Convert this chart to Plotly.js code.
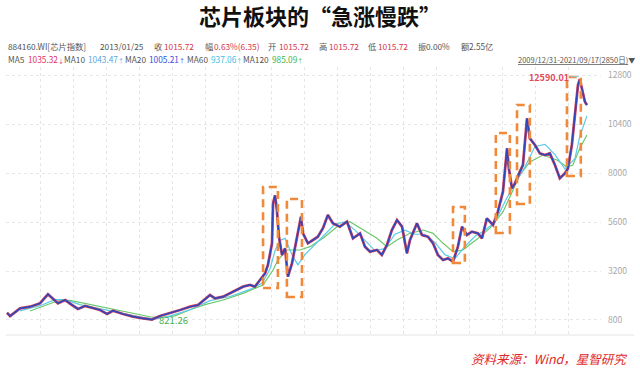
<!DOCTYPE html>
<html><head><meta charset="utf-8">
<script src="https://cdn.plot.ly/plotly-3.0.1.min.js"></script>
<style>html,body{margin:0;padding:0;background:#fff;}#chart{width:640px;height:372px;}</style>
</head><body><div id="chart"></div>
<script>
// ---- data (trading-day index since 2009/12/31, index level) ----
const priceDay = [0,15,64,113,162,201,250,285,319,348,383,422,456,491,520,569,618,667,711,750,800,849,898,937,996,1020,1060,1109,1158,1192,1216,1241,1266,1280,1300,1305,1315,1324,1334,1349,1364,1373,1378,1398,1422,1442,1452,1476,1501,1525,1550,1574,1599,1633,1668,1697,1732,1756,1781,1815,1839,1864,1888,1913,1938,1962,1977,2011,2036,2065,2090,2114,2139,2163,2188,2212,2232,2256,2281,2310,2330,2354,2369,2384,2408,2433,2453,2462,2477,2492,2516,2531,2551,2565,2590,2614,2639,2663,2688,2712,2737,2752,2771,2786,2801,2810,2825,2835,2845];
const priceClose = [1157,996,1373,1451,1618,2058,1618,1780,1535,1340,1486,1388,1290,1094,1255,1094,962,883,821,996,1128,1290,1451,1535,2024,1863,1941,2188,2433,2514,2433,2760,3087,3494,4555,6514,6900,6188,4880,3984,4310,3412,2923,3575,4880,5860,5045,4555,4718,4880,5300,5943,5535,5371,5616,4800,5045,4392,4145,4229,3984,4474,5208,5698,5371,4066,4718,5535,4963,4880,4555,3984,3739,3820,3657,4392,5371,4963,5127,5045,4800,5780,5616,5453,6106,7086,9208,8228,7249,7494,8065,8392,10678,9698,9371,8963,8882,8963,8392,7739,7984,8228,9371,10841,12310,12590,11820,11493,11330];

const ma60Day = [64,162,235,285,358,456,554,652,726,800,898,996,1094,1192,1251,1290,1315,1339,1364,1398,1427,1462,1511,1560,1609,1658,1707,1756,1805,1854,1903,1952,2001,2050,2099,2148,2197,2246,2296,2345,2394,2443,2492,2541,2590,2639,2688,2737,2786,2810,2845];
const ma60Vals = [1250,1500,1800,1800,1550,1350,1150,950,850,1000,1300,1750,1950,2300,2600,3300,4200,4700,4800,4000,3500,4000,4500,5000,5500,5600,5200,4700,4200,4300,5000,5200,5000,5000,4600,4000,3800,4400,4900,5200,5600,6600,7500,8300,9300,9400,8900,8200,8700,9800,10800];

const ma120Day = [113,186,260,309,407,505,603,701,750,824,898,971,1060,1158,1256,1305,1329,1373,1437,1486,1550,1619,1682,1746,1815,1864,1913,1977,2041,2090,2139,2188,2237,2271,2305,2369,2433,2516,2565,2629,2698,2747,2776,2810,2845];
const ma120Vals = [1240,1500,1780,1760,1560,1350,1170,960,900,1000,1300,1550,1780,2106,2514,3249,3739,4229,4229,4392,4800,5371,5616,5208,4800,4392,4718,5045,5208,5045,4555,4145,4229,4500,4750,5300,6090,7900,8540,8880,8640,8290,8390,9210,9860];

const yTicks = [800,3200,5600,8000,10400,12800];
const maxLabel = "12590.01";
const minLabel = "821.26";
const maxDay = 2810, maxVal = 12590;
const minDay = 711, minVal = 821;

// highlighted surge windows: [startDay, endDay, low, high]
const surgeBoxes = [
  [1256,1329,2367,7314],
  [1373,1447,1927,6727],
  [2188,2246,3592,6335],
  [2398,2467,5061,9959],
  [2502,2565,6482,11331],
  [2747,2815,7853,12702]
];

// ---- layout helpers ----
const W = 640, H = 372, ML = 6, MR = 39, MT = 67, MB = 37;
const PW = W - ML - MR, PH = H - MT - MB;
const px = x => (x - ML) / PW;
const py = y => 1 - (y - MT) / PH;

const FONT = '"Noto Sans CJK SC", "Noto Sans", sans-serif';
const GRAY = '#555', RED = '#d8364c';

const traces = [
  {x: ma120Day, y: ma120Vals, type: 'scatter', mode: 'lines', line: {color: '#6cc86c', width: 1.2}, hoverinfo: 'skip'},
  {x: ma60Day, y: ma60Vals, type: 'scatter', mode: 'lines', line: {color: '#5ccbe6', width: 1.2}, hoverinfo: 'skip'},
  {x: priceDay, y: priceClose, type: 'scatter', mode: 'lines', line: {color: '#e0485a', width: 2.8}, hoverinfo: 'skip'},
  {x: priceDay, y: priceClose, type: 'scatter', mode: 'lines', line: {color: '#3346b8', width: 1.7}, hoverinfo: 'skip'}
];

const arrowDn = '<span style="font-size:6px">↓</span>';
const arrowUp = '<span style="font-size:6px">↑</span>';
const line1 = [
  ["884160.WI[芯片指数]",7,GRAY],["2013/01/25",99,GRAY],["收",153,GRAY],["1015.72",163,RED],
  ["幅",204,GRAY],["0.63%(6.35)",213,RED],["开",267,GRAY],["1015.72",278,RED],
  ["高",318,GRAY],["1015.72",328,RED],["低",367,GRAY],["1015.72",377,RED],
  ["振",417,GRAY],["0.00%",425,GRAY],["额",460,GRAY],["2.55亿",468,GRAY]
];
const line2 = [
  ["MA5",7,GRAY],["1035.32"+arrowDn,27,'#e0306a'],["MA10",63,GRAY],["1043.47"+arrowUp,87,'#5fa5e0'],
  ["MA20",124,GRAY],["1005.21"+arrowUp,148,'#2e4fe0'],["MA60",186,GRAY],["937.06"+arrowUp,210,'#3cc2e6'],
  ["MA120",242,GRAY],["985.09"+arrowUp,271,'#3fb54a']
];

const annotations = [];
line1.forEach(([t,x,c]) => annotations.push({xref:'paper',yref:'paper',x:px(x),y:py(46.5),xanchor:'left',yanchor:'middle',text:t,showarrow:false,borderpad:0,font:{family:FONT,size:8.3,color:c}}));
line2.forEach(([t,x,c]) => annotations.push({xref:'paper',yref:'paper',x:px(x),y:py(59.5),xanchor:'left',yanchor:'middle',text:t,showarrow:false,borderpad:0,font:{family:FONT,size:8.3,color:c}}));
annotations.push({xref:'paper',yref:'paper',x:px(636),y:py(60),xanchor:'right',yanchor:'middle',text:'<span style="text-decoration:underline">2009/12/31-2021/09/17(2850日)</span><span style="font-size:7px">▼</span>',showarrow:false,borderpad:0,font:{family:FONT,size:7.5,color:GRAY}});
annotations.push({xref:'x',yref:'y',x:maxDay - 48,y:maxVal + 100,xanchor:'right',yanchor:'middle',text:'<b>'+maxLabel+'</b>',showarrow:false,borderpad:0,font:{family:FONT,size:9,color:'#e04a5a'}});
annotations.push({xref:'x',yref:'y',x:minDay + 30,y:minVal - 10,xanchor:'left',yanchor:'middle',text:minLabel,showarrow:false,borderpad:0,font:{family:FONT,size:9.5,color:'#4caf50'}});
annotations.push({xref:'paper',yref:'paper',x:px(628),y:py(358),xanchor:'right',yanchor:'middle',text:'<i>资料来源：Wind，星智研究</i>',showarrow:false,borderpad:0,font:{family:FONT,size:12.5,color:'#e02828'}});

const shapes = surgeBoxes.map(([x0,x1,y0,y1]) => ({type:'rect',xref:'x',yref:'y',x0:x0,x1:x1,y0:y0,y1:y1,line:{color:'#f0893a',width:2.6,dash:'8px,5px'},fillcolor:'rgba(0,0,0,0)'}));
shapes.push({type:'line',xref:'x',yref:'y',x0:maxDay-45,x1:maxDay-4,y0:maxVal+130,y1:maxVal+130,line:{color:'#7fd3e0',width:1}});
shapes.push({type:'line',xref:'paper',yref:'paper',x0:0,x1:px(634),y0:0,y1:0,line:{color:'#e4e4e4',width:1}});

const xGrid = [];
for (let k = 1; k <= 17; k++) xGrid.push(k * 162);

const layout = {
  width: W, height: H,
  margin: {l: ML, r: MR, t: MT, b: MB, pad: 0},
  paper_bgcolor: '#fff', plot_bgcolor: '#fff',
  showlegend: false,
  title: {text: '<b>芯片板块的“急涨慢跌”</b>', x: 0.5, xanchor: 'center', y: 1 - 17 / H, yanchor: 'middle', yref: 'container',
          font: {family: FONT, size: 22, color: '#111'}},
  xaxis: {range: [-5, 2914], tickvals: xGrid, showticklabels: false, ticks: '', showgrid: true, gridcolor: '#e6e6e6', griddash: 'dot', gridwidth: 1, zeroline: false, showline: false, fixedrange: true},
  yaxis: {range: [65, 13192], side: 'right', tickvals: yTicks, ticktext: yTicks.map(String), ticks: '', ticklabelstandoff: 6,
          tickfont: {family: FONT, size: 8.5, color: '#a8a8a8'}, showgrid: true, gridcolor: '#e6e6e6', griddash: 'dot', gridwidth: 1, zeroline: false, showline: false, fixedrange: true},
  annotations: annotations,
  shapes: shapes
};

Plotly.newPlot('chart', traces, layout, {staticPlot: true, displayModeBar: false});
</script>
</body></html>
